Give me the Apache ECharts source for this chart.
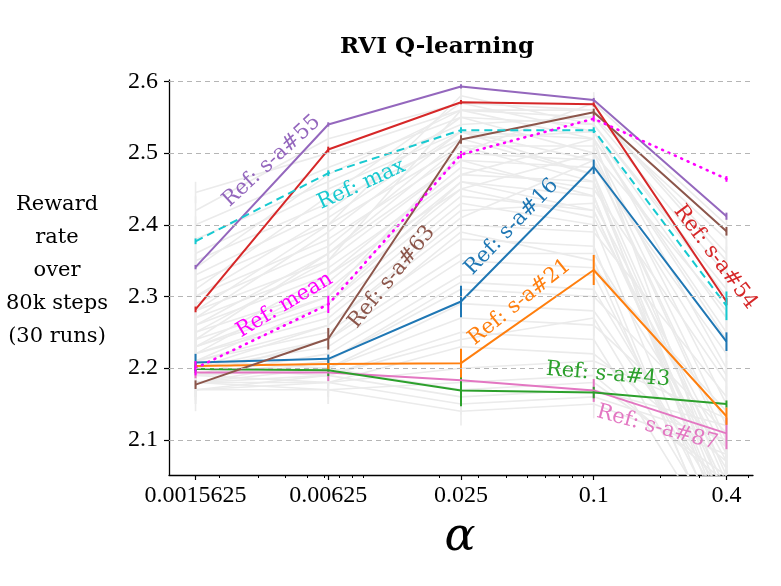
<!DOCTYPE html>
<html>
<head>
<meta charset="utf-8">
<script src="https://cdn.jsdelivr.net/npm/echarts@6/dist/echarts.min.js"></script>
<style>
html, body { margin: 0; padding: 0; background: #fff; }
#chart { width: 781px; height: 586px; }
</style>
</head>
<body>
<div id="chart"></div>
<script>
// step sizes (log axis, base 4 spacing)
var alphas = [0.0015625, 0.00625, 0.025, 0.1, 0.4];
var alphaLabels = ['0.0015625', '0.00625', '0.025', '0.1', '0.4'];
var minorAlphas = [0.002, 0.003, 0.004, 0.005, 0.006, 0.007, 0.008, 0.009,
                   0.02, 0.03, 0.04, 0.05, 0.06, 0.07, 0.08, 0.09,
                   0.2, 0.3, 0.5];
var yTicks = [2.1, 2.2, 2.3, 2.4, 2.5, 2.6];

// highlighted reference state-action pairs
var sa55 = [2.341, 2.540, 2.593, 2.574, 2.412];
var sa54 = [2.282, 2.505, 2.571, 2.568, 2.293];
var sa63 = [2.177, 2.241, 2.519, 2.557, 2.391];
var refMax = [2.377, 2.472, 2.532, 2.532, 2.287];
var refMean = [2.200, 2.289, 2.498, 2.548, 2.464];
var sa16 = [2.208, 2.213, 2.293, 2.481, 2.237];
var sa21 = [2.203, 2.206, 2.207, 2.337, 2.133];
var sa43 = [2.199, 2.197, 2.169, 2.166, 2.150];
var sa87 = [2.194, 2.194, 2.183, 2.169, 2.109];

// half widths of the error bars
var sa55Err = [0.003, 0.003, 0.003, 0.003, 0.005];
var sa54Err = [0.004, 0.004, 0.003, 0.003, 0.005];
var sa63Err = [0.006, 0.015, 0.006, 0.005, 0.006];
var refMaxErr = [0.004, 0.004, 0.004, 0.004, 0.020];
var refMeanErr = [0.010, 0.012, 0.005, 0.004, 0.004];
var sa16Err = [0.012, 0.006, 0.022, 0.010, 0.013];
var sa21Err = [0.006, 0.008, 0.020, 0.021, 0.012];
var sa43Err = [0.006, 0.008, 0.022, 0.008, 0.005];
var sa87Err = [0.008, 0.012, 0.017, 0.016, 0.022];

// all the other reference pairs (grey)
var grayRuns = [
  [2.445, 2.50, 2.56, 2.55, 2.38], [2.42, 2.52, 2.57, 2.56, 2.35],
  [2.40, 2.48, 2.55, 2.54, 2.30], [2.38, 2.46, 2.54, 2.55, 2.33],
  [2.36, 2.45, 2.53, 2.52, 2.25], [2.35, 2.43, 2.52, 2.53, 2.20],
  [2.33, 2.42, 2.55, 2.50, 2.28], [2.32, 2.40, 2.51, 2.51, 2.15],
  [2.30, 2.38, 2.50, 2.49, 2.10], [2.29, 2.37, 2.52, 2.47, 2.05],
  [2.28, 2.35, 2.49, 2.48, 2.22], [2.27, 2.34, 2.47, 2.46, 2.00],
  [2.26, 2.33, 2.48, 2.45, 2.18], [2.25, 2.31, 2.46, 2.44, 1.98],
  [2.24, 2.30, 2.45, 2.50, 2.12], [2.23, 2.29, 2.44, 2.42, 2.03],
  [2.22, 2.28, 2.43, 2.40, 1.95], [2.22, 2.27, 2.42, 2.43, 2.08],
  [2.21, 2.26, 2.40, 2.39, 2.16], [2.21, 2.25, 2.38, 2.37, 1.92],
  [2.20, 2.24, 2.36, 2.36, 2.06], [2.20, 2.23, 2.35, 2.34, 2.14],
  [2.19, 2.22, 2.33, 2.33, 1.97], [2.19, 2.21, 2.31, 2.30, 2.11],
  [2.19, 2.20, 2.29, 2.28, 2.02], [2.18, 2.20, 2.27, 2.26, 2.09],
  [2.18, 2.19, 2.25, 2.24, 1.94], [2.18, 2.18, 2.23, 2.22, 2.07],
  [2.17, 2.18, 2.20, 2.21, 2.13], [2.17, 2.17, 2.18, 2.19, 2.04],
  [2.20, 2.19, 2.16, 2.17, 2.12], [2.19, 2.18, 2.15, 2.16, 2.10],
  [2.18, 2.17, 2.14, 2.15, 2.08], [2.21, 2.20, 2.17, 2.18, 2.05],
  [2.23, 2.30, 2.50, 2.57, 2.40], [2.25, 2.35, 2.56, 2.56, 2.36],
  [2.28, 2.40, 2.58, 2.54, 2.31], [2.31, 2.44, 2.57, 2.53, 2.27],
  [2.22, 2.32, 2.47, 2.52, 2.24], [2.20, 2.26, 2.41, 2.49, 2.19],
  [2.34, 2.47, 2.56, 2.52, 2.01], [2.27, 2.39, 2.53, 2.47, 1.96],
  [2.24, 2.36, 2.49, 2.44, 1.99], [2.21, 2.29, 2.46, 2.42, 2.02],
  [2.19, 2.24, 2.39, 2.35, 1.93], [2.18, 2.21, 2.32, 2.31, 2.00],
  [2.26, 2.36, 2.51, 2.46, 2.04], [2.30, 2.41, 2.53, 2.49, 2.09],
  [2.17, 2.19, 2.24, 2.27, 1.96], [2.23, 2.33, 2.45, 2.41, 2.07]
];
var grayErr = [0.015, 0.02, 0.012, 0.018, 0.025, 0.02, 0.015, 0.03, 0.02, 0.03,
               0.015, 0.035, 0.02, 0.03, 0.025, 0.03, 0.04, 0.02, 0.015, 0.035,
               0.02, 0.015, 0.03, 0.02, 0.025, 0.015, 0.03, 0.02, 0.015, 0.02,
               0.012, 0.015, 0.02, 0.025, 0.015, 0.02, 0.015, 0.02, 0.025, 0.02,
               0.02, 0.025, 0.03, 0.02, 0.035, 0.02, 0.025, 0.015, 0.03, 0.02];

// line annotations
var labelText = ['Ref: s-a#55', 'Ref: max', 'Ref: mean', 'Ref: s-a#63', 'Ref: s-a#16',
                 'Ref: s-a#21', 'Ref: s-a#54', 'Ref: s-a#43', 'Ref: s-a#87'];
var labelAlpha = [0.00346, 0.00884, 0.00396, 0.01213, 0.0424, 0.0461, 0.356, 0.116, 0.194];
var labelValue = [2.489, 2.456, 2.288, 2.327, 2.397, 2.292, 2.355, 2.191, 2.117];
var labelAngle = [42.6, 24.5, 31, 51, 46, 38.7, -53, -5, -15];

var C = {
  purple: '#9467bd', red: '#d62728', brown: '#8c564b', cyan: '#17c9d0',
  magenta: '#ff00ff', blue: '#1f77b4', orange: '#ff7f0e', green: '#2ca02c',
  pink: '#e377c2', gray: '#ebebeb'
};
var labelColor = [C.purple, C.cyan, C.magenta, C.brown, C.blue, C.orange, C.red, C.green, C.pink];

// position on the base-4 log axis
function logPos(a) {
  return Math.log(a / alphas[0]) / Math.log(4);
}
function pairs(vals) {
  return vals.map(function (v, i) { return [logPos(alphas[i]), v]; });
}
function errData(vals, errs) {
  return vals.map(function (v, i) { return [logPos(alphas[i]), v, errs[i]]; });
}
function renderErr(params, api) {
  var x = api.value(0), y = api.value(1), e = api.value(2);
  var p1 = api.coord([x, y - e]);
  var p2 = api.coord([x, y + e]);
  return {
    type: 'line',
    shape: { x1: p1[0], y1: p1[1], x2: p2[0], y2: p2[1] },
    style: { stroke: api.visual('color'), lineWidth: params.seriesName === 'grayErr' ? 1.6 : 2 }
  };
}

var series = [];

// grid lines
series.push({
  type: 'line', data: [], z: 1, silent: true,
  markLine: {
    silent: true, symbol: 'none', label: { show: false }, animation: false,
    lineStyle: { color: '#b5b5b5', type: [5, 4], width: 1 },
    data: yTicks.map(function (v) { return { yAxis: v }; })
  }
});

var grayErrData = [];
grayRuns.forEach(function (run, k) {
  series.push({
    type: 'line', data: pairs(run), symbol: 'none', z: 2, silent: true,
    lineStyle: { color: C.gray, width: 1.6 }
  });
  run.forEach(function (v, i) { grayErrData.push([logPos(alphas[i]), v, grayErr[k]]); });
});
series.push({
  type: 'custom', name: 'grayErr', data: grayErrData, renderItem: renderErr, clip: true, z: 2,
  itemStyle: { color: C.gray }, silent: true
});

function addRef(vals, errs, color, lineType, z) {
  series.push({
    type: 'line', data: pairs(vals), symbol: 'none', z: z,
    lineStyle: { color: color, width: lineType === 'dotted' ? 2.6 : 2,
                 type: lineType === 'dashed' ? [8, 5] : (lineType === 'dotted' ? [1, 6] : 'solid'),
                 cap: lineType === 'dotted' ? 'round' : 'butt' }
  });
  series.push({
    type: 'custom', data: errData(vals, errs), renderItem: renderErr, clip: true, z: z,
    itemStyle: { color: color }
  });
}
addRef(sa87, sa87Err, C.pink, 'solid', 3);
addRef(sa43, sa43Err, C.green, 'solid', 3);
addRef(sa21, sa21Err, C.orange, 'solid', 3);
addRef(sa16, sa16Err, C.blue, 'solid', 3);
addRef(sa63, sa63Err, C.brown, 'solid', 3);
addRef(sa54, sa54Err, C.red, 'solid', 3);
addRef(sa55, sa55Err, C.purple, 'solid', 3);
addRef(refMax, refMaxErr, C.cyan, 'dashed', 4);
addRef(refMean, refMeanErr, C.magenta, 'dotted', 4);

// annotations along the lines
series.push({
  type: 'custom', z: 6, clip: false, silent: true,
  data: labelText.map(function (t, i) { return [logPos(labelAlpha[i]), labelValue[i], labelAngle[i]]; }),
  renderItem: function (params, api) {
    var p = api.coord([api.value(0), api.value(1)]);
    return {
      type: 'text', x: p[0], y: p[1], rotation: api.value(2) * Math.PI / 180,
      style: {
        text: labelText[params.dataIndex], fill: labelColor[params.dataIndex],
        font: '21px "DejaVu Serif"', align: 'center', verticalAlign: 'middle'
      }
    };
  }
});

var chart = echarts.init(document.getElementById('chart'));
chart.setOption({
  animation: false,
  backgroundColor: '#fff',
  grid: { left: 169, right: 28, top: 80, bottom: 111 },
  xAxis: [{
    type: 'value', min: -0.2, max: 4.2,
    axisLine: { show: true, onZero: false, lineStyle: { color: '#000', width: 1.3 } },
    axisTick: { show: true, length: 5, customValues: alphas.map(logPos), lineStyle: { color: '#000', width: 1.2 } },
    axisLabel: {
      customValues: alphas.map(logPos), margin: 9, color: '#000',
      fontFamily: 'Liberation Serif', fontSize: 24,
      formatter: function (v) {
        var i = Math.round(v);
        return alphaLabels[i] || '';
      }
    },
    splitLine: { show: false }
  }, {
    type: 'value', min: -0.2, max: 4.2, position: 'bottom', gridIndex: 0,
    axisLine: { show: false, onZero: false },
    axisTick: { show: true, length: 3, customValues: minorAlphas.map(logPos), lineStyle: { color: '#000', width: 1 } },
    axisLabel: { show: false },
    splitLine: { show: false }
  }],
  yAxis: {
    type: 'value', min: 2.051, max: 2.602,
    axisLine: { show: true, onZero: false, lineStyle: { color: '#000', width: 1.3 } },
    axisTick: { show: true, length: 5, customValues: yTicks, lineStyle: { color: '#000', width: 1.2 } },
    axisLabel: {
      customValues: yTicks, margin: 11, color: '#000',
      fontFamily: 'Liberation Serif', fontSize: 24,
      formatter: function (v) { return v.toFixed(1); }
    },
    splitLine: { show: false }
  },
  graphic: [{
    type: 'text', x: 437, y: 47,
    style: { text: 'RVI Q-learning', font: 'bold 23px "DejaVu Serif"', fill: '#000', align: 'center', verticalAlign: 'middle' }
  }, {
    type: 'text', x: 57, y: 271,
    style: { text: 'Reward\nrate\nover\n80k steps\n(30 runs)', font: '21px "DejaVu Serif"', lineHeight: 33,
             fill: '#000', align: 'center', verticalAlign: 'middle' }
  }, {
    type: 'text', x: 460, y: 538,
    style: { text: 'α', font: 'italic 46px "DejaVu Serif"', fill: '#000', align: 'center', verticalAlign: 'middle' }
  }],
  series: series
});
</script>
</body>
</html>
